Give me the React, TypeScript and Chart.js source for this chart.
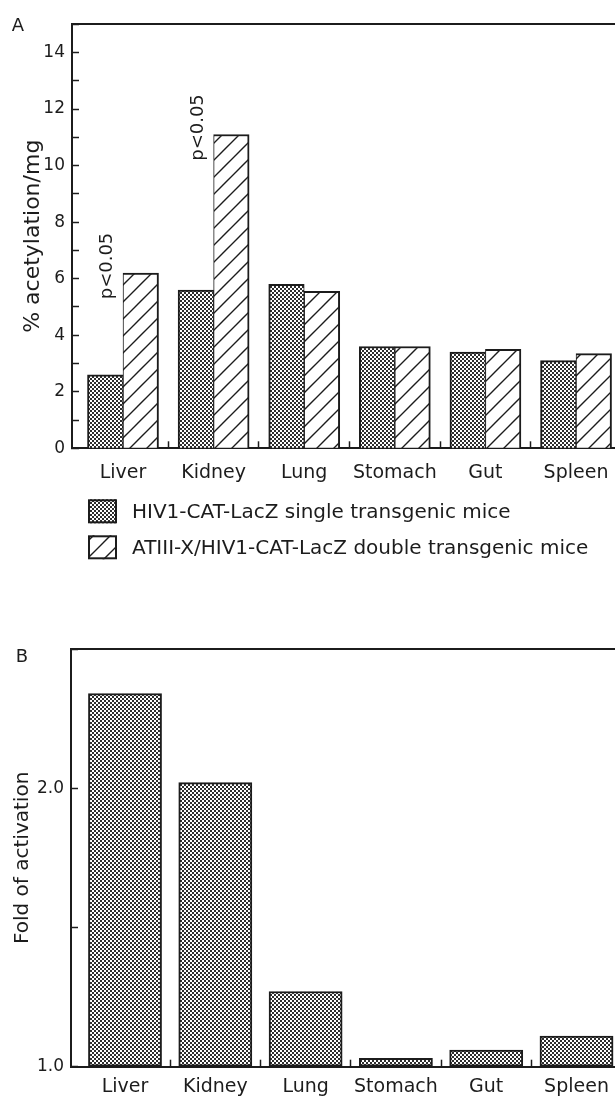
import React, { useEffect, useRef } from 'react';
import { Chart, registerables } from 'chart.js';

Chart.register(...registerables);

// ---------- data ----------
const categories = ['Liver', 'Kidney', 'Lung', 'Stomach', 'Gut', 'Spleen'];
const singleValues = [2.6, 5.6, 5.8, 3.6, 3.4, 3.1];
const doubleValues = [6.2, 11.1, 5.55, 3.6, 3.5, 3.35];
const foldValues = [2.34, 2.02, 1.27, 1.03, 1.06, 1.11];
const significance = ['p<0.05', 'p<0.05', '', '', '', ''];
const seriesLabels = [
  'HIV1-CAT-LacZ single transgenic mice',
  'ATIII-X/HIV1-CAT-LacZ double transgenic mice',
];
const yTickMarksA = [0, 1, 2, 3, 4, 5, 6, 7, 8, 9, 10, 11, 12, 13, 14, 15];
const yTickLabelsA = [0, 2, 4, 6, 8, 10, 12, 14];
const yTickMarksB = [1, 1.5, 2, 2.5];
const yTickLabelsB = [1, 2];
const yTitleA = '% acetylation/mg';
const yTitleB = 'Fold of activation';
const panelLabels = ['A', 'B'];

// ---------- style ----------
const INK = '#1c1c1c';
const FONT = "'DejaVu Sans', sans-serif";

function makeDots(): CanvasPattern {
  const c = document.createElement('canvas');
  c.width = 4;
  c.height = 4;
  const g = c.getContext('2d')!;
  g.fillStyle = '#ffffff';
  g.fillRect(0, 0, 4, 4);
  g.fillStyle = '#2e2e2e';
  g.fillRect(0, 0, 2, 2);
  g.fillRect(2, 2, 2, 2);
  return g.createPattern(c, 'repeat')!;
}

function makeHatch(): CanvasPattern {
  const s = 17;
  const c = document.createElement('canvas');
  c.width = s;
  c.height = s;
  const g = c.getContext('2d')!;
  g.fillStyle = '#ffffff';
  g.fillRect(0, 0, s, s);
  g.strokeStyle = INK;
  g.lineWidth = 1.4;
  g.beginPath();
  g.moveTo(0, s);
  g.lineTo(s, 0);
  g.moveTo(-3, 3);
  g.lineTo(3, -3);
  g.moveTo(s - 3, s + 3);
  g.lineTo(s + 3, s - 3);
  g.stroke();
  return g.createPattern(c, 'repeat')!;
}

function xAxis(minV: number, maxV: number, pad: number) {
  return {
    type: 'linear',
    position: 'bottom',
    offset: false,
    min: minV,
    max: maxV,
    afterBuildTicks: (axis: any) => {
      const t: any[] = [];
      categories.forEach((_, i) => {
        t.push({ value: i });
        if (i < categories.length - 1) t.push({ value: i + 0.5 });
      });
      axis.ticks = t;
    },
    afterFit: (axis: any) => {
      axis.height = 40;
    },
    ticks: {
      autoSkip: false,
      maxRotation: 0,
      minRotation: 0,
      padding: pad,
      color: INK,
      font: { size: 19, family: FONT },
      callback: (v: any) => (Number.isInteger(v) ? categories[v] : ''),
    },
    grid: {
      offset: false,
      drawOnChartArea: false,
      drawTicks: true,
      tickLength: -7,
      tickWidth: 1.5,
      tickColor: (ctx: any) =>
        ctx.tick && Number.isInteger(ctx.tick.value) ? 'rgba(0,0,0,0)' : INK,
    },
    border: { display: true, color: INK, width: 2 },
  };
}

function topAxis() {
  return {
    type: 'linear',
    position: 'top',
    display: true,
    offset: false,
    afterFit: (axis: any) => {
      axis.height = 0;
    },
    ticks: { display: false },
    grid: { offset: false, drawOnChartArea: false, drawTicks: false },
    border: { display: true, color: INK, width: 2 },
  };
}

function yAxis(
  minV: number,
  maxV: number,
  marks: number[],
  labels: number[],
  fmt: (v: number) => string,
  title: string,
  titleSize: number,
  titlePad: number,
  width: number
) {
  return {
    type: 'linear',
    position: 'left',
    min: minV,
    max: maxV,
    afterBuildTicks: (axis: any) => {
      axis.ticks = marks.map((v) => ({ value: v }));
    },
    afterFit: (axis: any) => {
      axis.width = width;
    },
    ticks: {
      padding: 14,
      color: INK,
      font: { size: 17, family: FONT },
      callback: (v: any) => (labels.includes(v) ? fmt(v) : ''),
    },
    grid: {
      drawOnChartArea: false,
      drawTicks: true,
      tickLength: -7,
      tickWidth: 1.5,
      tickColor: INK,
    },
    border: { display: true, color: INK, width: 2 },
    title: {
      display: true,
      text: title,
      color: INK,
      font: { size: titleSize, family: FONT },
      padding: { top: titlePad, bottom: 0 },
    },
  };
}

function panelLabelPlugin(text: string, x: number, y: number) {
  return {
    id: 'panelLabel' + text,
    afterDraw(chart: any) {
      const { ctx } = chart;
      ctx.save();
      ctx.fillStyle = INK;
      ctx.font = `18px ${FONT}`;
      ctx.textAlign = 'center';
      ctx.textBaseline = 'middle';
      ctx.fillText(text, x, y);
      ctx.restore();
    },
  };
}

const significancePlugin = {
  id: 'significance',
  afterDatasetsDraw(chart: any) {
    const m0 = chart.getDatasetMeta(0);
    const m1 = chart.getDatasetMeta(1);
    const { ctx } = chart;
    significance.forEach((txt, i) => {
      if (!txt) return;
      const x = m0.data[i].x + 2;
      const y = m1.data[i].y - 7;
      ctx.save();
      ctx.translate(x, y);
      ctx.rotate(-Math.PI / 2);
      ctx.fillStyle = INK;
      ctx.font = `18px ${FONT}`;
      ctx.textAlign = 'center';
      ctx.textBaseline = 'middle';
      ctx.fillText(txt, 0, 0);
      ctx.restore();
    });
  },
};

const legendPlugin = {
  id: 'boxLegend',
  afterDraw(chart: any) {
    const { ctx } = chart;
    const area = chart.chartArea;
    chart.data.datasets.forEach((ds: any, i: number) => {
      const bx = area.left + 16;
      const by = area.bottom + 51 + i * 36;
      ctx.save();
      ctx.fillStyle = ds.backgroundColor;
      ctx.fillRect(bx, by, 29, 24);
      ctx.lineWidth = 2;
      ctx.strokeStyle = INK;
      ctx.strokeRect(bx + 1, by + 1, 27, 22);
      ctx.fillStyle = INK;
      ctx.font = `20px ${FONT}`;
      ctx.textAlign = 'left';
      ctx.textBaseline = 'middle';
      ctx.fillText(ds.label, bx + 44, by + 13);
      ctx.restore();
    });
  },
};

export default function App() {
  const refA = useRef<HTMLCanvasElement>(null);
  const refB = useRef<HTMLCanvasElement>(null);

  useEffect(() => {
    Chart.defaults.font.family = FONT;
    Chart.defaults.color = INK;
    const dots = makeDots();
    const hatch = makeHatch();

    const chartA = new Chart(refA.current as HTMLCanvasElement, {
      type: 'bar',
      data: {
        datasets: [
          {
            label: seriesLabels[0],
            data: singleValues.map((v, i) => ({ x: i, y: v })),
            backgroundColor: dots,
            borderColor: INK,
            borderWidth: { top: 2, left: 2, right: 1, bottom: 0 },
            borderSkipped: false,
            xAxisID: 'x',
            yAxisID: 'y',
          },
          {
            label: seriesLabels[1],
            data: doubleValues.map((v, i) => ({ x: i, y: v })),
            backgroundColor: hatch,
            borderColor: INK,
            borderWidth: { top: 2, left: 1, right: 2, bottom: 0 },
            borderSkipped: false,
            xAxisID: 'x',
            yAxisID: 'y',
          },
        ],
      } as any,
      options: {
        animation: false,
        responsive: false,
        devicePixelRatio: 1,
        events: [],
        layout: { padding: { top: 20, left: 0, right: 0, bottom: 101.7 } },
        datasets: {
          bar: { barThickness: 'flex', categoryPercentage: 0.784, barPercentage: 1 },
        } as any,
        plugins: { legend: { display: false }, tooltip: { enabled: false } },
        scales: {
          x: xAxis(-0.563, 5.706, 20),
          xTop: topAxis(),
          y: yAxis(0, 15, yTickMarksA, yTickLabelsA, (v) => String(v), yTitleA, 22, 19.8, 72),
        } as any,
      },
      plugins: [significancePlugin, legendPlugin, panelLabelPlugin(panelLabels[0], 18, 26)],
    });

    const chartB = new Chart(refB.current as HTMLCanvasElement, {
      type: 'bar',
      data: {
        datasets: [
          {
            label: seriesLabels[0],
            data: foldValues.map((v, i) => ({ x: i, y: v })),
            backgroundColor: dots,
            borderColor: INK,
            borderWidth: 2,
            borderSkipped: false,
            base: 1,
            xAxisID: 'x',
            yAxisID: 'y',
          },
        ],
      } as any,
      options: {
        animation: false,
        responsive: false,
        devicePixelRatio: 1,
        events: [],
        layout: { padding: { top: 49, left: 0, right: 0, bottom: 3.3 } },
        datasets: {
          bar: { barThickness: 'flex', categoryPercentage: 0.81, barPercentage: 1 },
        } as any,
        plugins: { legend: { display: false }, tooltip: { enabled: false } },
        scales: {
          x: xAxis(-0.598, 5.703, 16),
          xTop: topAxis(),
          y: yAxis(1, 2.5, yTickMarksB, yTickLabelsB, (v) => v.toFixed(1), yTitleB, 20, 10.6, 71),
        } as any,
      },
      plugins: [panelLabelPlugin(panelLabels[1], 22, 57)],
    });

    return () => {
      chartA.destroy();
      chartB.destroy();
    };
  }, []);

  return (
    <div
      style={{
        position: 'absolute',
        left: 0,
        top: 0,
        width: 615,
        height: 1096,
        overflow: 'hidden',
        background: '#ffffff',
      }}
    >
      <canvas
        ref={refA}
        width={640}
        height={590}
        style={{ position: 'absolute', left: 0, top: 0, width: 640, height: 590 }}
      />
      <canvas
        ref={refB}
        width={640}
        height={510}
        style={{ position: 'absolute', left: 0, top: 600, width: 640, height: 510 }}
      />
    </div>
  );
}
